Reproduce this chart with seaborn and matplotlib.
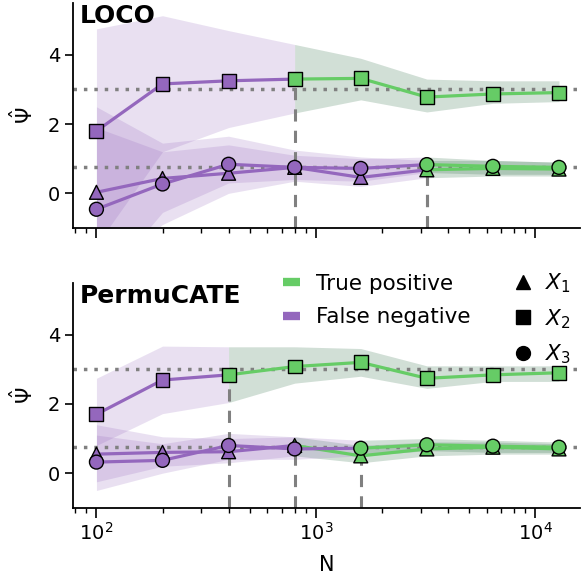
import numpy as np
import pandas as pd
import matplotlib
matplotlib.use("Agg")
import matplotlib.pyplot as plt
from matplotlib.lines import Line2D
import seaborn as sns

# sample sizes
N = [100, 200, 400, 800, 1600, 3200, 6400, 12800]
truth = {"X1": 0.75, "X2": 3.0, "X3": 0.75}

# LOCO estimates and bands
loco_x1 = [0.03, 0.43, 0.58, 0.75, 0.46, 0.68, 0.72, 0.70]
loco_x1_lo = [-2.5, -0.9, 0.0, 0.35, 0.2, 0.45, 0.5, 0.5]
loco_x1_hi = [2.5, 1.45, 1.65, 1.25, 1.05, 0.95, 0.95, 0.9]
loco_x2 = [1.80, 3.16, 3.25, 3.30, 3.32, 2.78, 2.87, 2.91]
loco_x2_lo = [-1.5, 1.2, 1.9, 2.32, 2.7, 2.35, 2.6, 2.65]
loco_x2_hi = [4.75, 5.13, 4.7, 4.3, 3.9, 3.3, 3.25, 3.25]
loco_x3 = [-0.46, 0.27, 0.84, 0.75, 0.72, 0.83, 0.78, 0.75]
loco_x3_lo = [-2.8, -0.55, 0.3, 0.4, 0.35, 0.6, 0.55, 0.55]
loco_x3_hi = [1.9, 1.2, 1.4, 1.1, 1.0, 1.05, 0.95, 0.9]
loco_first_tp = {"X1": 3200, "X2": 800, "X3": 3200}

# PermuCATE estimates and bands
perm_x1 = [0.55, 0.60, 0.62, 0.80, 0.50, 0.70, 0.75, 0.70]
perm_x1_lo = [-0.25, 0.2, 0.3, 0.5, 0.3, 0.5, 0.55, 0.55]
perm_x1_hi = [1.4, 1.05, 1.0, 1.05, 0.8, 0.9, 0.9, 0.85]
perm_x2 = [1.70, 2.69, 2.84, 3.08, 3.20, 2.74, 2.84, 2.90]
perm_x2_lo = [0.8, 1.72, 2.04, 2.6, 2.8, 2.45, 2.65, 2.65]
perm_x2_hi = [2.74, 3.67, 3.65, 3.65, 3.6, 3.1, 3.1, 3.1]
perm_x3 = [0.32, 0.37, 0.80, 0.70, 0.72, 0.82, 0.78, 0.75]
perm_x3_lo = [-0.5, 0.0, 0.4, 0.4, 0.5, 0.65, 0.6, 0.6]
perm_x3_hi = [1.1, 0.85, 1.15, 1.05, 0.95, 1.0, 0.95, 0.9]
perm_first_tp = {"X1": 800, "X2": 400, "X3": 1600}

PURPLE = "#9467bd"
GREEN = "#66cc66"
GREEN_BAND = "#2f6e46"
markers = {"X1": "^", "X2": "s", "X3": "o"}


def draw_method(ax, series, first_tp, name):
    for var, (vals, lo, hi) in series.items():
        d = N.index(first_tp[var])
        # bands: purple before detection, green after
        ax.fill_between(N[:d + 1], lo[:d + 1], hi[:d + 1], color=PURPLE,
                        alpha=0.2, lw=0, zorder=1)
        ax.fill_between(N[d:], lo[d:], hi[d:], color=GREEN_BAND,
                        alpha=0.22, lw=0, zorder=1)
        sns.lineplot(x=N[:d + 1], y=vals[:d + 1], color=PURPLE, lw=2.3,
                     ax=ax, zorder=3)
        sns.lineplot(x=N[d:], y=vals[d:], color=GREEN, lw=2.3, ax=ax, zorder=3)
        ax.vlines(N[d], -1, vals[d], colors="grey", linestyles=(0, (4, 3)),
                  lw=2.2, zorder=2)
        df = pd.DataFrame({"N": N, "v": vals,
                           "tp": ["TP" if i >= d else "FN" for i in range(len(N))]})
        sns.scatterplot(data=df, x="N", y="v", hue="tp",
                        palette={"TP": GREEN, "FN": PURPLE},
                        marker=markers[var], s=100, edgecolor="black",
                        linewidth=1, ax=ax, legend=False, zorder=4)
    for t in set(truth.values()):
        ax.axhline(t, color="grey", ls=(0, (1, 2)), lw=2.5, zorder=2)
    ax.set_xscale("log")
    ax.set_xlim(78, 16000)
    ax.set_ylim(-1, 5.5)
    ax.set_yticks([0, 2, 4])
    ax.set_ylabel(r"$\hat{\Psi}$", fontsize=15, labelpad=8)
    ax.text(0.014, 0.995, name, transform=ax.transAxes, fontsize=18,
            fontweight="bold", va="top", ha="left")
    ax.tick_params(labelsize=14, width=1.2, length=6, pad=3)
    ax.tick_params(axis="x", which="major", length=7)
    ax.tick_params(axis="x", which="minor", length=3.5, width=1)
    for s in ["left", "bottom"]:
        ax.spines[s].set_linewidth(1.3)
    sns.despine(ax=ax)


sns.set_style("ticks", {"axes.edgecolor": "black", "text.color": "black",
                        "xtick.color": "black", "ytick.color": "black",
                        "axes.labelcolor": "black"})
fig = plt.figure(figsize=(5.82, 5.83), dpi=100)
ax1 = fig.add_axes([0.125, 0.609, 0.872, 0.386])
ax2 = fig.add_axes([0.125, 0.129, 0.872, 0.386], sharex=ax1)

draw_method(ax1, {"X1": (loco_x1, loco_x1_lo, loco_x1_hi),
                  "X2": (loco_x2, loco_x2_lo, loco_x2_hi),
                  "X3": (loco_x3, loco_x3_lo, loco_x3_hi)}, loco_first_tp, "LOCO")
draw_method(ax2, {"X1": (perm_x1, perm_x1_lo, perm_x1_hi),
                  "X2": (perm_x2, perm_x2_lo, perm_x2_hi),
                  "X3": (perm_x3, perm_x3_lo, perm_x3_hi)}, perm_first_tp, "PermuCATE")
plt.setp(ax1.get_xticklabels(), visible=False)
ax1.set_xlabel("")
ax2.set_xlabel("N", fontsize=15, labelpad=8)

color_handles = [Line2D([], [], color=GREEN, lw=6, solid_capstyle="butt"),
                 Line2D([], [], color=PURPLE, lw=6, solid_capstyle="butt")]
leg1 = ax2.legend(color_handles, ["True positive", "False negative"],
                  loc="upper left", bbox_to_anchor=(0.414, 1.04), frameon=False,
                  fontsize=15.5, handlelength=0.8, handletextpad=0.75,
                  labelspacing=0.62, borderpad=0, borderaxespad=0)
ax2.add_artist(leg1)
marker_handles = [Line2D([], [], color="black", marker=markers[v], ls="",
                         markersize=10) for v in ["X1", "X2", "X3"]]
ax2.legend(marker_handles, ["$X_1$", "$X_2$", "$X_3$"], loc="upper left",
           bbox_to_anchor=(0.866, 1.05), frameon=False, fontsize=15.5,
           handlelength=1.0, handletextpad=0.5, labelspacing=0.55,
           borderpad=0, borderaxespad=0)

fig.savefig("out.png", dpi=100)
